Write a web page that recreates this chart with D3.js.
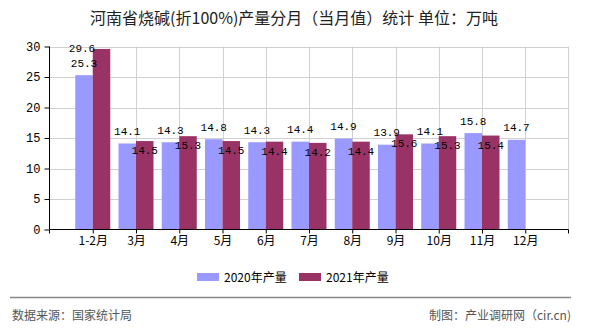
<!DOCTYPE html>
<html><head><meta charset="utf-8">
<script src="https://cdn.jsdelivr.net/npm/d3@7"></script>
<style>body{margin:0;background:#fff}svg{display:block}</style>
</head><body><svg id="c" width="590" height="330"></svg>
<script>
const categories = ["1-2月","3月","4月","5月","6月","7月","8月","9月","10月","11月","12月"];
const series2020 = [25.3,14.1,14.3,14.8,14.3,14.4,14.9,13.9,14.1,15.8,14.7];
const series2021 = [29.6,14.5,15.3,14.5,14.4,14.2,14.4,15.6,15.3,15.4,null];
const seriesNames = ["2020年产量","2021年产量"];
const yTicks = [0,5,10,15,20,25,30];
const titleText = "河南省烧碱(折100%)产量分月（当月值）统计 单位：万吨";
const sourceText = "数据来源：国家统计局";
const makerText = "制图：产业调研网（cir.cn)";

const colors = ["#9999ff","#993366"];
const svg = d3.select("#c");
const L = 49.5, R = 568.5, T = 46.5, B = 229.5;
const cjk = "'Noto Sans CJK SC','Microsoft YaHei',sans-serif";
const mono = "'Liberation Mono','DejaVu Sans Mono',monospace";

const x = d3.scalePoint().domain(categories).range([L, R]).padding(1);
const y = d3.scaleLinear().domain([0,30]).range([B, T]);
const bw = 17.5;

// title
svg.append("text").attr("x",294).attr("y",24).attr("text-anchor","middle")
  .style("font-family",cjk).style("font-size","16px").attr("fill","#222").text(titleText);

// gridlines
const g = svg.append("g");
yTicks.filter(v=>v>0).forEach(v=>{
  g.append("line").attr("x1",L).attr("x2",R).attr("y1",Math.round(y(v))+0.5).attr("y2",Math.round(y(v))+0.5)
   .attr("stroke","#d0d0d0");
});
categories.forEach(c=>{
  g.append("line").attr("x1",Math.round(x(c))+0.5).attr("x2",Math.round(x(c))+0.5).attr("y1",T).attr("y2",B)
   .attr("stroke","#d0d0d0");
});
g.append("line").attr("x1",R).attr("x2",R).attr("y1",T).attr("y2",B).attr("stroke","#d0d0d0");

// bars
const bars = svg.append("g");
categories.forEach((c,i)=>{
  const cx = x(c);
  if (series2020[i]!=null) bars.append("rect").attr("x",cx-bw).attr("width",bw)
     .attr("y",y(series2020[i])).attr("height",B-y(series2020[i])).attr("fill",colors[0]);
  if (series2021[i]!=null) bars.append("rect").attr("x",cx).attr("width",bw)
     .attr("y",y(series2021[i])).attr("height",B-y(series2021[i])).attr("fill",colors[1]);
});

// value labels
const lab = svg.append("g").style("font-family",mono).style("font-size","11px").attr("fill","#000").attr("text-anchor","middle");
categories.forEach((c,i)=>{
  const cx = x(c);
  let b20 = null;
  if (series2020[i]!=null){
    b20 = y(series2020[i]) - 8.5;
    lab.append("text").attr("x",cx-bw/2).attr("y",b20).text(series2020[i].toFixed(1));
  }
  if (series2021[i]!=null){
    let lx = cx+bw/2, ly = y(series2021[i]) + 13;
    if (b20!=null && Math.abs(ly-b20) < 10){ lx = cx-bw/2-2; ly = b20-15; }
    lab.append("text").attr("x",lx).attr("y",ly).text(series2021[i].toFixed(1));
  }
});

// axes
const ax = svg.append("g").attr("stroke","#000");
ax.append("line").attr("x1",L).attr("x2",L).attr("y1",T).attr("y2",B);
ax.append("line").attr("x1",L).attr("x2",R).attr("y1",B).attr("y2",B);
const yAxisG = svg.append("g").attr("transform",`translate(${L},0)`)
  .call(d3.axisLeft(y).tickValues(yTicks).tickSize(5).tickPadding(4));
yAxisG.select(".domain").remove();
yAxisG.selectAll("text").style("font-family",mono).style("font-size","12px").attr("fill","#000");
yAxisG.selectAll("line").attr("stroke","#000");
const xAxisG = svg.append("g").attr("transform",`translate(0,${B})`)
  .call(d3.axisBottom(x).tickSize(4).tickPadding(3));
xAxisG.select(".domain").remove();
xAxisG.selectAll("text").style("font-family",cjk).style("font-size","12px").attr("fill","#000");
xAxisG.selectAll("line").attr("stroke","#000");
svg.append("line").attr("x1",L).attr("x2",L).attr("y1",B).attr("y2",B+4).attr("stroke","#000");
svg.append("line").attr("x1",R).attr("x2",R).attr("y1",B).attr("y2",B+4).attr("stroke","#000");

// legend
const leg = svg.append("g");
const legX = [197, 299];
seriesNames.forEach((n,i)=>{
  leg.append("rect").attr("x",legX[i]).attr("y",273).attr("width",22).attr("height",8).attr("fill",colors[i]);
  leg.append("text").attr("x",legX[i]+27).attr("y",281.5).style("font-family",cjk).style("font-size","12px")
    .attr("fill","#000").text(n);
});

// footer
svg.append("line").attr("x1",10).attr("x2",571).attr("y1",297.5).attr("y2",297.5).attr("stroke","#888").attr("stroke-width",1.3);
svg.append("text").attr("x",12).attr("y",320).style("font-family",cjk).style("font-size","12px").attr("fill","#555").text(sourceText);
svg.append("text").attr("x",571).attr("y",320).attr("text-anchor","end").style("font-family",cjk).style("font-size","12px").attr("fill","#555").text(makerText);
</script></body></html>
